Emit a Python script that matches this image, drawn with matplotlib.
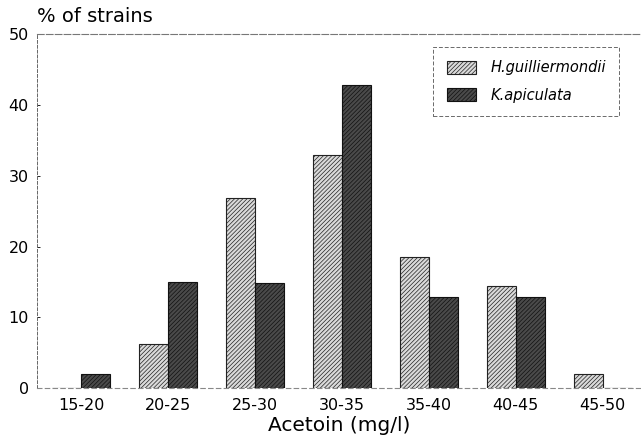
import matplotlib
matplotlib.use("Agg")
import matplotlib.pyplot as plt
import numpy as np

# acetoin classes (mg/l)
classes = ["15-20", "20-25", "25-30", "30-35", "35-40", "40-45", "45-50"]
# % of strains per class
h_guilliermondii = [0.0, 6.2, 26.8, 32.9, 18.5, 14.4, 2.0]
k_apiculata = [2.0, 15.0, 14.9, 42.8, 12.8, 12.9, 0.0]
y_ticks = [0, 10, 20, 30, 40, 50]


def create_plot():
    plt.rcParams["hatch.linewidth"] = 0.5
    fig = plt.figure(figsize=(6.41, 4.44), dpi=100)
    ax = fig.add_axes([0.058, 0.126, 0.942, 0.797])

    x = np.arange(len(classes))
    w = 0.333
    ax.bar(x - w / 2, h_guilliermondii, width=w, facecolor="#dadada",
           edgecolor="#222222", hatch="////////", linewidth=0.8,
           label="H.guilliermondii")
    ax.bar(x + w / 2, k_apiculata, width=w, facecolor="#4a4a4a",
           edgecolor="#111111", hatch="////////", linewidth=0.8,
           label="K.apiculata")

    ax.set_xlim(-0.506, 6.44)
    ax.set_ylim(0, 50)
    ax.set_xticks(x)
    ax.set_xticklabels(classes, fontsize=11.5)
    ax.set_yticks(y_ticks)
    ax.set_yticklabels([str(t) for t in y_ticks], fontsize=11.5)
    ax.tick_params(axis="x", length=0, pad=7)
    ax.tick_params(axis="y", direction="in", length=2, width=0.6, pad=6)

    ax.spines["right"].set_visible(False)
    ax.spines["top"].set_linestyle((0, (6, 2)))
    ax.spines["top"].set_color("#777777")
    ax.spines["top"].set_linewidth(0.8)
    ax.spines["left"].set_linestyle((0, (3, 2)))
    ax.spines["left"].set_color("#666666")
    ax.spines["left"].set_linewidth(0.7)
    ax.spines["bottom"].set_linestyle((0, (4, 3)))
    ax.spines["bottom"].set_color("#888888")
    ax.spines["bottom"].set_linewidth(0.8)

    ax.set_xlabel("Acetoin (mg/l)", fontsize=14.5, labelpad=2)
    fig.text(0.058, 0.962, "% of strains", fontsize=14, ha="left", va="center")

    leg = ax.legend(loc="upper right", bbox_to_anchor=(0.9636, 0.963),
                    prop={"style": "italic", "size": 10.5},
                    fancybox=False, borderpad=0.9, labelspacing=0.85,
                    handlelength=2.0, handleheight=0.95, handletextpad=1.0,
                    borderaxespad=0)
    frame = leg.get_frame()
    frame.set_edgecolor("#444444")
    frame.set_linewidth(0.7)
    frame.set_linestyle((0, (4, 2)))

    fig.savefig("out.png", dpi=100)


def main():
    create_plot()


if __name__ == "__main__":
    main()
